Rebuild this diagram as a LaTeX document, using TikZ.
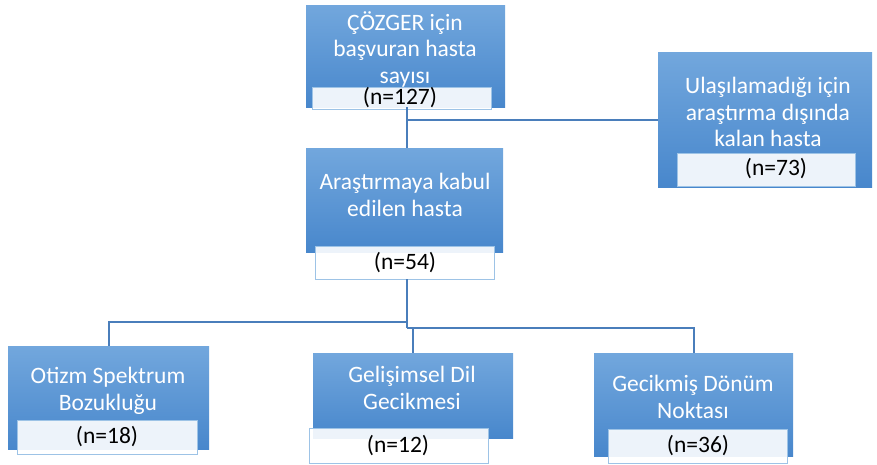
\documentclass[tikz,border=0pt]{standalone}
\usepackage{fontspec}
\setmainfont{Carlito}
\definecolor{boxtop}{HTML}{72A7DD}
\definecolor{boxbot}{HTML}{4887CC}
\definecolor{lblborder}{HTML}{9DC3E6}
\definecolor{conncol}{HTML}{4A7EBB}
\tikzset{
  bluebox/.style={rectangle, anchor=north west, inner sep=0pt, outer sep=0pt,
    top color=boxtop, bottom color=boxbot, draw=none},
  lblbox/.style={rectangle, anchor=north west, inner sep=0pt, outer sep=0pt,
    fill=white, fill opacity=0.9, draw=lblborder, line width=1pt},
  wtext/.style={text=white, align=center, inner sep=0pt,
    font=\fontsize{23.5}{26.5}\selectfont},
  ntext/.style={text=black, inner sep=0pt, font=\fontsize{23.5}{26}\selectfont},
  conn/.style={draw=conncol, line width=1.4pt}
}
\begin{document}
\begin{tikzpicture}[x=1pt,y=-1pt]
\useasboundingbox (0,0) rectangle (877,464);
% connectors (behind boxes)
\coordinate (jtop) at (407,120);
\coordinate (jmid) at (407,322);
\coordinate (jlow) at (407,328);
% boxes
\node[bluebox, minimum width=199pt, minimum height=102pt] (b1) at (306,5) {};
\node[bluebox, minimum width=214pt, minimum height=135pt] (b3) at (658,52) {};
\node[bluebox, minimum width=197pt, minimum height=104pt] (b2) at (306,148) {};
\node[bluebox, minimum width=201pt, minimum height=103pt] (b4) at (8,346) {};
\node[bluebox, minimum width=200pt, minimum height=85pt] (b5) at (313,353) {};
\node[bluebox, minimum width=199pt, minimum height=103pt] (b6) at (594,353) {};
% label boxes
\node[lblbox, minimum width=179pt, minimum height=22pt] (l1) at (312,87) {};
\node[lblbox, minimum width=178pt, minimum height=33pt] (l3) at (677,153) {};
\node[lblbox, minimum width=179pt, minimum height=33pt] (l2) at (315,246) {};
\node[lblbox, minimum width=180pt, minimum height=34pt] (l4) at (17,420) {};
\node[lblbox, minimum width=179pt, minimum height=35pt] (l5) at (309,428) {};
\node[lblbox, minimum width=179pt, minimum height=34pt] (l6) at (608,429) {};
% texts
\node[wtext] (t1) at (405,49) {ÇÖZGER için\\başvuran hasta\\sayısı};
\node[wtext] (t3) at (768,112) {Ulaşılamadığı için\\araştırma dışında\\kalan hasta};
\node[wtext] (t2) at (405,195) {Araştırmaya kabul\\edilen hasta};
\node[wtext] (t4) at (108,391) {Otizm Spektrum\\Bozukluğu};
\node[wtext] (t5) at (412,388) {Gelişimsel Dil\\Gecikmesi};
\node[wtext] (t6) at (693,397) {Gecikmiş Dönüm\\Noktası};
\node[ntext] (n1) at (400,98) {(n=127)};
\node[ntext] (n3) at (776,169) {(n=73)};
\node[ntext] (n2) at (405,263) {(n=54)};
\node[ntext] (n4) at (107,437) {(n=18)};
\node[ntext] (n5) at (398,446) {(n=12)};
\node[ntext] (n6) at (698,446) {(n=36)};
% connectors
\draw[conn] (b1.south -| jtop) -- (b2.north -| jtop);
\draw[conn] (jtop) -- (jtop -| b3.west);
\draw[conn] (l2.south -| jmid) -- (jlow);
\draw[conn] (jmid) -| (b4.north -| 109,0);
\draw[conn] (jlow) -| (b6.north -| 694,0);
\draw[conn] (jlow -| 413,0) -- (b5.north -| 413,0);
\end{tikzpicture}
\end{document}
